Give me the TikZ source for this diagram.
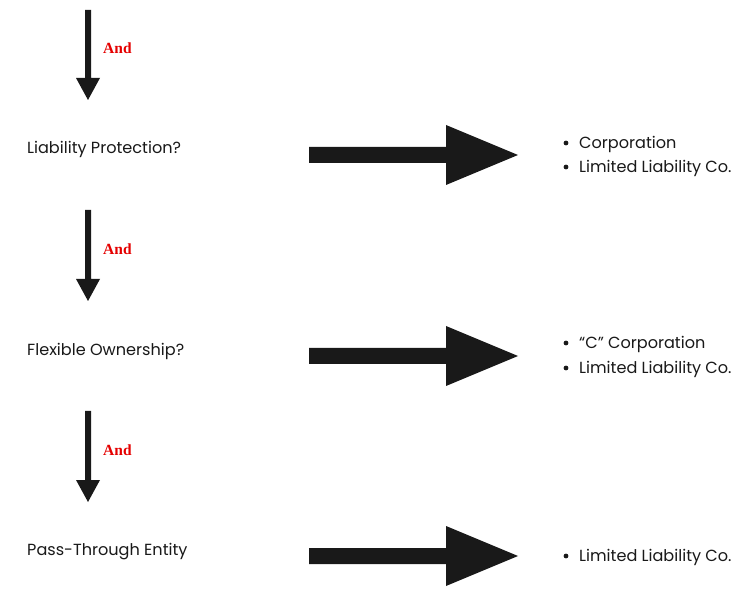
\documentclass[tikz,border=0pt]{standalone}
\usepackage{fontspec}
\setmainfont{Poppins}
\newfontfamily\andfont{Liberation Serif}
\begin{document}
\begin{tikzpicture}[x=1pt,y=-1pt,
  lbl/.style={anchor=west,inner sep=0pt,font=\fontsize{16.1}{18}\selectfont,text=black!90},
  andl/.style={anchor=west,inner sep=0pt,font=\andfont\bfseries\fontsize{15.5}{17}\selectfont,text=red!90!black},
  arr/.style={fill=black!90,draw=none}]
\useasboundingbox (0,0) rectangle (756,596);
\fill[white] (0,0) rectangle (756,596);
% small down arrows
\foreach \t/\b/\a in {10/100/48, 210/301/249, 411/502/450}{
  \fill[arr] (85,\t) -- (91,\t) -- (91,\b-22) -- (100,\b-22) -- (88,\b) -- (76,\b-22) -- (85,\b-22) -- cycle;
  \node[andl] at (103,\a) {And};
}
% big right arrows
\foreach \c in {155,356,556}{
  \fill[arr] (309,\c-8) -- (446,\c-8) -- (446,\c-30) -- (518,\c) -- (446,\c+30) -- (446,\c+8) -- (309,\c+8) -- cycle;
}
\node[lbl] (q1) at (27,149.5) {Liability Protection?};
\node[lbl] (q2) at (27,351.5) {Flexible Ownership?};
\node[lbl] (q3) at (27,551.5) {Pass-Through Entity};
\foreach \n/\y/\t in {a1/143/Corporation, a2/167/Limited Liability Co., b1/343/“C” Corporation, b2/368/Limited Liability Co., c1/556/Limited Liability Co.}{
  \fill[black!90] (566,\y) circle (2.4);
  \node[lbl] (\n) at (579,\y+1.5) {\t};
}
\end{tikzpicture}
\end{document}
